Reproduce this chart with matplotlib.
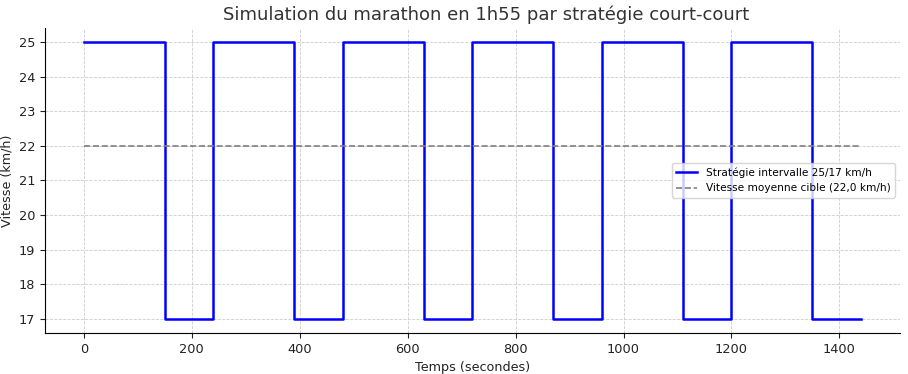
import matplotlib
matplotlib.use("Agg")
import matplotlib.pyplot as plt

# Data
times = [0, 150, 240, 390, 480, 630, 720, 870, 960, 1110, 1200, 1350, 1440]
speeds = [25, 17, 25, 17, 25, 17, 25, 17, 25, 17, 25, 17, 17]
target_x = [0, 1440]
target_speed = [22, 22]
title = "Simulation du marathon en 1h55 par stratégie court-court"
xlabel = "Temps (secondes)"
ylabel = "Vitesse (km/h)"
label_strat = "Stratégie intervalle 25/17 km/h"
label_target = "Vitesse moyenne cible (22,0 km/h)"

plt.rcParams['font.family'] = ['DejaVu Sans']
fig, ax = plt.subplots(figsize=(9.08, 3.74), dpi=100)
fig.subplots_adjust(left=0.0496, right=0.991, top=0.925, bottom=0.11)

ax.step(times, speeds, where='post', color='blue', linewidth=1.8, label=label_strat)
ax.plot(target_x, target_speed, linestyle='--', color='gray', linewidth=1.2, label=label_target)

ax.set_title(title, fontsize=13, color='#333333', x=0.516)
ax.set_xlabel(xlabel, fontsize=9.2, color='#222222')
ax.set_ylabel(ylabel, fontsize=9.2, color='#222222')
ax.set_yticks(range(17, 26))
ax.tick_params(labelsize=9.3, colors='#222222', width=0.8)
ax.grid(True, linestyle='--', color='#cccccc', linewidth=0.6)
ax.set_axisbelow(True)
for s in ['top', 'right']:
    ax.spines[s].set_visible(False)
ax.legend(loc='center right', fontsize=7.6, framealpha=0.8)

fig.savefig("out.png", dpi=100)
